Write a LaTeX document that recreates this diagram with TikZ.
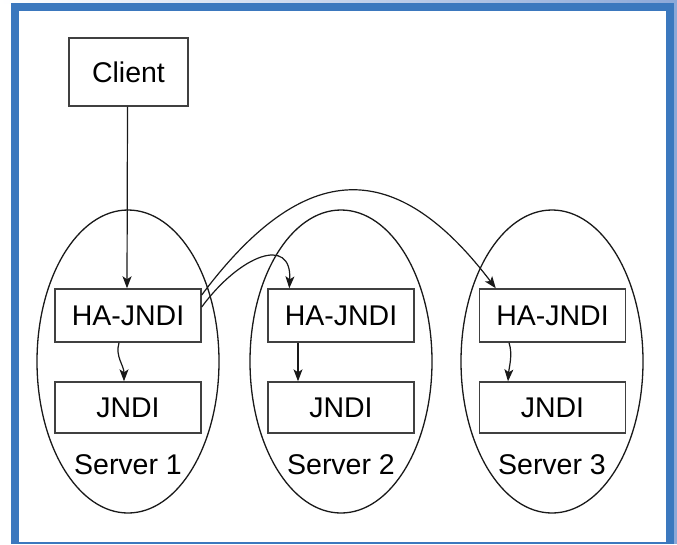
\documentclass[tikz,border=0pt]{standalone}
\usepackage{fontspec}
\setmainfont{Liberation Sans}
\usetikzlibrary{shapes.geometric,arrows.meta,calc}
\definecolor{frameblue}{RGB}{59,120,190}
\definecolor{framelight}{RGB}{140,168,216}
\begin{document}
\begin{tikzpicture}[x=1pt,y=-1pt,
  box/.style={draw=black!75, line width=1.4pt, fill=white, inner sep=0pt,
    font=\fontsize{28.5}{34}\selectfont, text=black},
  srv/.style={draw=black!90, line width=1.3pt, ellipse, inner sep=0pt,
    minimum width=182pt, minimum height=303pt},
  lbl/.style={font=\fontsize{28.5}{34}\selectfont, inner sep=0pt, anchor=base, text=black},
  arr/.style={line width=1.2pt, draw=black!90, -{Stealth[length=12pt,width=9pt,inset=3pt]}}]
\useasboundingbox (0,0) rectangle (677,544);
% frame
\fill[left color=white, right color=framelight] (0,0) rectangle (677,3);
\fill[framelight] (674,0) rectangle (677,544);
\fill[frameblue] (11,3) rectangle (674,544);
\fill[white] (19,11) rectangle (666,542);
% servers
\node[srv] (s1) at (128,361.5) {};
\node[srv] (s2) at (341,361.5) {};
\node[srv] (s3) at (552,361.5) {};
\node[lbl] (l1) at (128,474) {Server 1};
\node[lbl] (l2) at (341,474) {Server 2};
\node[lbl] (l3) at (552,474) {Server 3};
% boxes
\node[box, minimum width=119pt, minimum height=68pt] (client) at (128.5,72) {Client};
\node[box, minimum width=146pt, minimum height=53pt] (ha1) at (128,315.5) {HA-JNDI};
\node[box, minimum width=146pt, minimum height=53pt] (ha2) at (341,315.5) {HA-JNDI};
\node[box, minimum width=146pt, minimum height=53pt] (ha3) at (552.5,315.5) {HA-JNDI};
\node[box, minimum width=146pt, minimum height=51pt] (j1) at (128,407.5) {JNDI};
\node[box, minimum width=146pt, minimum height=51pt] (j2) at (341,407.5) {JNDI};
\node[box, minimum width=146pt, minimum height=51pt] (j3) at (552.5,407.5) {JNDI};
% connectors
\draw[arr] ($(client.south)+(-1,0)$) -- ($(ha1.north)+(-1,0)$);
\draw[arr] ($(ha1.south)+(-9,0)$) .. controls +(-4,14) and +(0,-16) .. ($(j1.north)+(-4,0)$);
\draw[arr] ($(ha2.south)+(-43,0)$) -- ($(j2.north)+(-43,0)$);
\draw[arr] ($(ha3.south)+(-43.5,0)$) .. controls +(4,12) and +(1,-14) .. ($(j3.north)+(-44.5,0)$);
\draw[arr] ($(ha1.east)+(0,-20.5)$) .. controls (305,157) and (396,157) .. ($(ha3.north west)+(17,0)$);
\draw[arr] ($(ha1.east)+(0,-8.5)$) .. controls (240,255) and (292,235) .. ($(ha2.north west)+(22,0)$);
\end{tikzpicture}
\end{document}
